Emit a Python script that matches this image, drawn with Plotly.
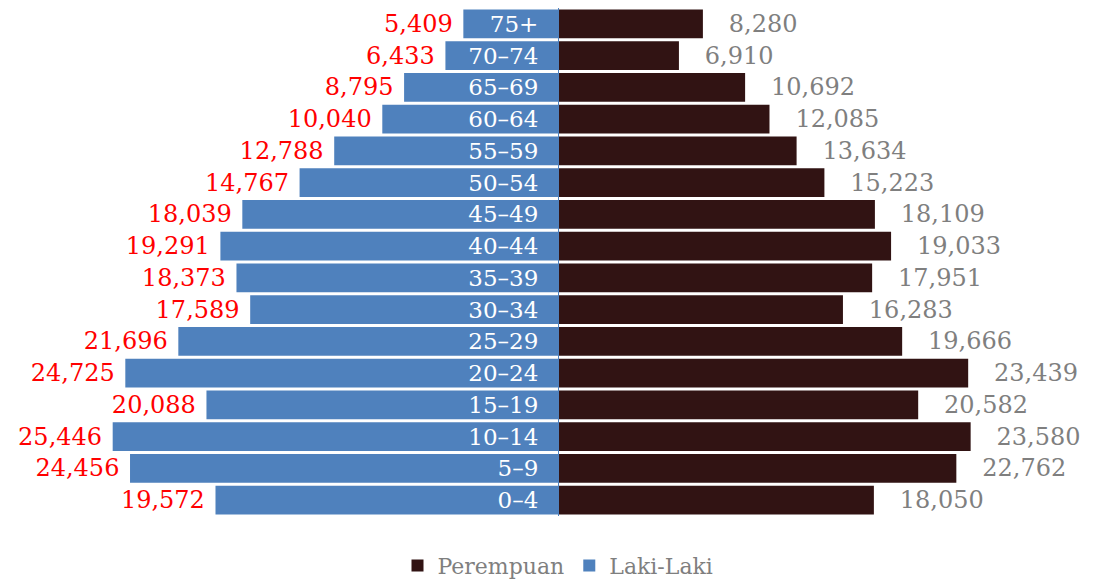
import plotly.graph_objects as go

ages = ["0–4", "5–9", "10–14", "15–19", "20–24", "25–29", "30–34", "35–39",
        "40–44", "45–49", "50–54", "55–59", "60–64", "65–69", "70–74", "75+"]
laki = [19572, 24456, 25446, 20088, 24725, 21696, 17589, 18373,
        19291, 18039, 14767, 12788, 10040, 8795, 6433, 5409]
perempuan = [18050, 22762, 23580, 20582, 23439, 19666, 16283, 17951,
             19033, 18109, 15223, 13634, 12085, 10692, 6910, 8280]

FONT = "DejaVu Serif"
NB = "\u00a0"

fig = go.Figure()
fig.add_trace(go.Bar(
    name="Perempuan", y=ages, x=perempuan, orientation="h",
    marker=dict(color="#311313", line=dict(width=0)),
    text=[NB * 3 + f"{v:,}" for v in perempuan],
    textposition="outside", constraintext="none", cliponaxis=False,
    textfont=dict(family=FONT, size=24, color="#7F7F7F"),
    hoverinfo="skip",
))
fig.add_trace(go.Bar(
    name="Laki-Laki", y=ages, x=[-v for v in laki], orientation="h",
    marker=dict(color="#4F81BD", line=dict(width=0)),
    text=[f"{v:,}" + NB for v in laki],
    textposition="outside", constraintext="none", cliponaxis=False,
    textfont=dict(family=FONT, size=24, color="#FF0000"),
    hoverinfo="skip",
))

R = 535 / 0.0175
fig.update_layout(
    width=1085, height=572,
    margin=dict(l=15, r=0, t=0, b=64, autoexpand=False),
    barmode="overlay", bargap=0.09,
    plot_bgcolor="white", paper_bgcolor="white",
    font=dict(family=FONT),
    showlegend=True,
    legend=dict(orientation="h", x=0.5, xanchor="center", y=-0.098, yanchor="middle",
                font=dict(family=FONT, size=22, color="#7F7F7F"),
                itemwidth=30, traceorder="normal"),
    xaxis=dict(range=[-R, R], visible=False, fixedrange=True),
    yaxis=dict(type="category", anchor="free", position=0.5, side="left",
               showline=True, linecolor="#4F81BD", linewidth=1,
               ticks="", showgrid=False, zeroline=False,
               tickfont=dict(family=FONT, size=23, color="white"),
               ticklabelstandoff=15, layer="above traces", fixedrange=True),
)

fig.write_html("out.html")
